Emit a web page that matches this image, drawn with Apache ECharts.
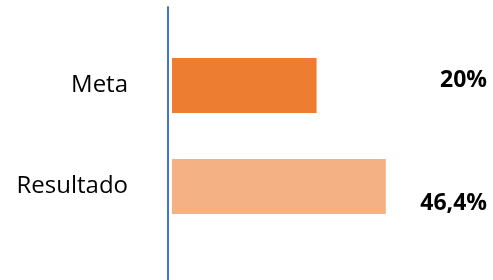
<!doctype html>
<html>
<head>
<meta charset="utf-8">
<title>Meta x Resultado</title>
<script src="https://cdn.jsdelivr.net/npm/echarts@6/dist/echarts.min.js"></script>
<style>
  html, body { margin: 0; padding: 0; background: #fff; }
  #chart { width: 493px; height: 280px; }
</style>
</head>
<body>
<div id="chart"></div>
<script>
  var categories = ['Meta', 'Resultado'];
  var values = [20, 46.4];
  var valueLabels = ['20%', '46,4%'];
  var barColors = ['#ED7D31', '#F4B183'];

  // label vertical nudges, per bar (px)
  var labelDy = [-5, 17];

  var chart = echarts.init(document.getElementById('chart'));

  var barData = values.map(function (v, i) {
    return {
      value: v,
      itemStyle: { color: barColors[i] },
      label: { offset: [0, labelDy[i]], formatter: valueLabels[i] }
    };
  });

  chart.setOption({
    animation: false,
    grid: [
      { left: 172, right: 44, top: 35, bottom: 43 },
      { left: 168, right: 0, top: 7, bottom: 0 }
    ],
    xAxis: [{
      gridIndex: 0,
      type: 'log',
      logBase: 10,
      min: 3.45,
      max: 100,
      show: false
    }, {
      gridIndex: 1,
      type: 'value',
      show: false
    }],
    yAxis: [{
      gridIndex: 0,
      type: 'category',
      inverse: true,
      data: categories,
      axisLine: { show: false },
      axisTick: { show: false },
      axisLabel: {
        margin: 44,
        color: '#000',
        fontFamily: 'Open Sans',
        fontSize: 24,
        padding: [6, 0, 0, 0]
      }
    }, {
      gridIndex: 1,
      type: 'value',
      axisLine: { show: true, lineStyle: { color: '#4472C4', width: 2 } },
      axisTick: { show: false },
      axisLabel: { show: false },
      splitLine: { show: false }
    }],
    series: [{
      type: 'bar',
      xAxisIndex: 0,
      yAxisIndex: 0,
      barWidth: 55,
      clip: true,
      label: {
        show: true,
        position: [315, '50%'],
        align: 'right',
        verticalAlign: 'middle',
        color: '#000',
        fontFamily: 'Open Sans',
        fontWeight: 'bold',
        fontSize: 23
      },
      data: barData
    }]
  });
</script>
</body>
</html>
